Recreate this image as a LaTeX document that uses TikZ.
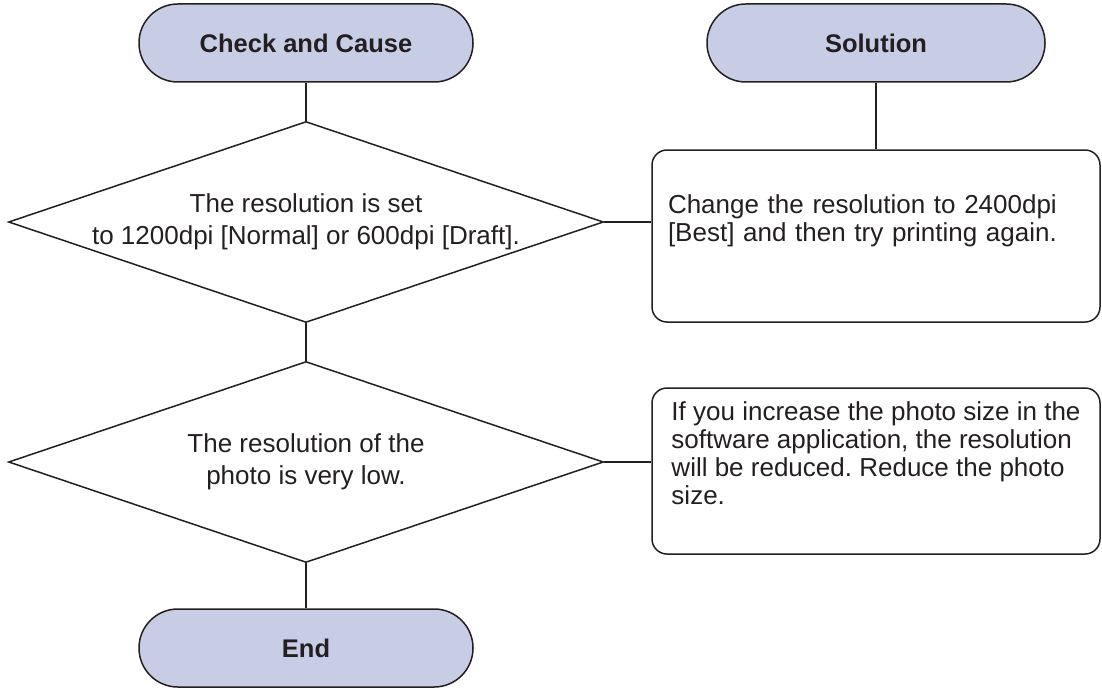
\documentclass[tikz,border=0pt]{standalone}
\usepackage{fontspec}
\setmainfont{Liberation Sans}
\usepackage{tikz}
\usetikzlibrary{shapes.geometric}
\definecolor{TermFill}{RGB}{200,205,230}
\definecolor{LineGray}{RGB}{35,31,32}
\frenchspacing

\begin{document}
\begin{tikzpicture}[x=1pt,y=-1pt,line width=1.5pt,color=LineGray,
  term/.style={rectangle,draw=LineGray,fill=TermFill,minimum width=#1,minimum height=78pt,rounded corners=38.9pt,font=\fontsize{25.5}{28}\selectfont\bfseries},
  dec/.style={diamond,draw=LineGray,minimum width=595pt,minimum height=201pt,inner sep=-6pt,aspect=2.96,align=center,font=\fontsize{26}{32}\selectfont},
  solbox/.style={rectangle,draw=LineGray,rounded corners=15pt,minimum width=448pt,minimum height=#1,align=left,font=\fontsize{26}{28}\selectfont}]
\useasboundingbox (0,0) rectangle (1102,690);
% header row
\node[term=334pt] (chk) at (306,43) {Check and Cause};
\node[term=338pt] (solh) at (876,43) {Solution};
% checks
\node[dec] (d1) at (306,222) {The resolution is set\\to 1200dpi [Normal] or 600dpi [Draft].};
\node[dec] (d2) at (306,462) {The resolution of the\\photo is very low.};
\node[term=334pt] (fin) at (306,648) {End};
% solutions
\node[solbox=172pt,text width=416pt] (b1) at (876,236) {Change the resolution to 2400dpi\\{}[Best] and then try printing again.\\ \strut};
\node[solbox=166pt] (b2) at (876,471) {If you increase the photo size in the\\software application, the resolution\\will be reduced. Reduce the photo\\size.\\ \strut};
% connectors
\draw (chk) -- (d1);
\draw (d1) -- (d2);
\draw (d2) -- (fin);
\draw (solh.south) -- (solh.south |- b1.north);
\draw (d1.east) -- (d1.east -| b1.west);
\draw (d2.east) -- (d2.east -| b2.west);
\end{tikzpicture}
\end{document}
